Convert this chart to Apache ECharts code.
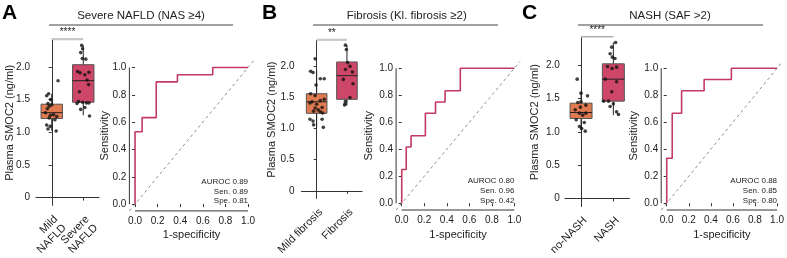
<!DOCTYPE html>
<html>
<head>
<meta charset="utf-8">
<script src="https://cdn.jsdelivr.net/npm/echarts@6/dist/echarts.min.js"></script>
<style>
  html, body { margin: 0; padding: 0; background: #fff; }
  #chart { width: 787px; height: 258px; }
</style>
</head>
<body>
<div id="chart"></div>
<script>
// ---- data ----
const catsA = ['Mild\nNAFLD', 'Severe\nNAFLD'];
const catsB = ['Mild fibrosis', 'Fibrosis'];
const catsC = ['no-NASH', 'NASH'];

// [whisker low, Q1, median, Q3, whisker high]
const boxA = [[1.02, 1.21, 1.30, 1.43, 1.59], [1.26, 1.46, 1.79, 2.035, 2.33]];
const boxB = [[1.02, 1.245, 1.43, 1.56, 1.92], [1.37, 1.47, 1.85, 2.07, 2.34]];
const boxC = [[1.02, 1.20, 1.29, 1.43, 1.60], [1.25, 1.46, 1.79, 2.02, 2.34]];

// points (value) and horizontal jitter (category units)
const ptsA0 = [1.79, 1.59, 1.56, 1.50, 1.44, 1.42, 1.40, 1.36, 1.30, 1.27, 1.26, 1.24, 1.22, 1.19, 1.11, 1.09, 1.05, 1.02];
const jitA0 = [0.20, -0.10, -0.16, -0.04, -0.12, 0.00, -0.08, -0.14, -0.20, 0.06, -0.04, 0.16, -0.08, 0.10, -0.16, -0.05, -0.12, 0.14];
const ptsA1 = [2.33, 2.28, 2.22, 2.13, 2.12, 1.93, 1.92, 1.91, 1.88, 1.80, 1.73, 1.62, 1.47, 1.46, 1.45, 1.45, 1.44, 1.38, 1.35, 1.25];
const jitA1 = [-0.05, -0.02, -0.08, -0.03, 0.08, -0.18, 0.18, -0.10, 0.05, 0.12, 0.17, -0.12, -0.15, -0.02, 0.10, 0.18, -0.20, 0.05, -0.08, 0.20];

const ptsB0 = [2.12, 1.92, 1.90, 1.80, 1.80, 1.70, 1.56, 1.53, 1.47, 1.45, 1.43, 1.41, 1.39, 1.34, 1.33, 1.30, 1.28, 1.27, 1.25, 1.15, 1.15, 1.12, 1.06, 1.02];
const jitB0 = [-0.05, -0.20, -0.12, 0.12, 0.25, -0.02, -0.20, -0.05, 0.25, 0.12, -0.15, -0.22, 0.00, 0.18, -0.05, 0.05, -0.10, 0.12, 0.20, -0.22, 0.18, -0.12, -0.10, 0.22];
const ptsB1 = [2.34, 2.27, 2.06, 2.00, 1.95, 1.91, 1.79, 1.72, 1.50, 1.44, 1.40, 1.38];
const jitB1 = [-0.05, -0.02, 0.02, 0.10, -0.05, 0.18, -0.12, 0.20, 0.10, -0.05, -0.06, -0.08];

const ptsC0 = [1.79, 1.58, 1.54, 1.45, 1.44, 1.40, 1.37, 1.33, 1.28, 1.28, 1.25, 1.18, 1.14, 1.08, 1.05, 1.01];
const jitC0 = [-0.12, 0.00, 0.20, 0.00, -0.10, 0.15, -0.02, -0.18, -0.05, 0.15, 0.05, -0.15, 0.10, -0.05, 0.02, 0.13];
const ptsC1 = [2.34, 2.27, 2.17, 2.12, 2.10, 1.98, 1.97, 1.95, 1.79, 1.75, 1.60, 1.46, 1.46, 1.42, 1.38, 1.30, 1.26];
const jitC1 = [0.07, -0.05, -0.10, -0.03, 0.05, -0.18, 0.10, -0.04, -0.25, 0.10, -0.05, -0.30, -0.15, 0.00, -0.10, 0.10, 0.16];

// ROC curves (step points)
const fprA = [0, 0, 0.0625, 0.1875, 0.375, 0.6875, 1];
const tprA = [0, 0.53, 0.633, 0.895, 0.947, 1, 1];
const fprB = [0, 0, 0.04, 0.083, 0.21, 0.30, 0.385, 0.52, 1];
const tprB = [0, 0.25, 0.417, 0.5, 0.667, 0.75, 0.833, 1, 1];
const fprC = [0, 0, 0.05, 0.135, 0.339, 0.586, 1];
const tprC = [0, 0.333, 0.667, 0.833, 0.917, 1, 1];

const auroc = ['0.89', '0.80', '0.88'];
const sens = ['0.89', '0.96', '0.85'];
const spec = ['0.81', '0.42', '0.80'];
const stars = ['****', '**', '****'];
const titles = ['Severe NAFLD (NAS \u22654)', 'Fibrosis (Kl. fibrosis \u22652)', 'NASH (SAF >2)'];
const letters = ['A', 'B', 'C'];

const boxTicks = [0, 0.5, 1, 1.5, 2];
const boxTickLabels = ['0', '0.5', '1.0', '1.5', '2.0'];
const rocTicks = [0, 0.2, 0.4, 0.6, 0.8, 1];
const rocTickLabels = ['0.0', '0.2', '0.4', '0.6', '0.8', '1.0'];

// ---- layout / styles ----
const boxMin = -0.12, boxMax = 2.41;
const rocMin = -0.05, rocMax = 1.05;
const FONT = '"Liberation Sans", Arial, Helvetica, sans-serif';
const ink = '#222';
const axisCol = '#333';
const fills = ['#e07a50', '#cf4768'];
const rocCol = '#c23a62';

const panels = [
  { cats: catsA, box: boxA, pts: [ptsA0, ptsA1], jit: [jitA0, jitA1], fpr: fprA, tpr: tprA,
    boxGrid: { left: 36, top: 40.2, width: 63, height: 169.9 }, off: 3, yGap: 18,
    rocGrid: { left: 129.4, top: 60.7, width: 124.3, height: 150.2 }, rocGap: 19,
    title: { x: 141, l: 49, r: 233 }, letterX: 2, sigCol: '#c8c8c8', sigW: 2.2 },
  { cats: catsB, box: boxB, pts: [ptsB0, ptsB1], jit: [jitB0, jitB1], fpr: fprB, tpr: tprB,
    boxGrid: { left: 301.5, top: 40.8, width: 60.6, height: 169.5 }, off: 4, yGap: 20,
    rocGrid: { left: 396.1, top: 61.5, width: 123.9, height: 148.5 }, rocGap: 21.5,
    title: { x: 406.7, l: 313, r: 498 }, letterX: 262, sigCol: '#c8c8c8', sigW: 2.2 },
  { cats: catsC, box: boxC, pts: [ptsC0, ptsC1], jit: [jitC0, jitC1], fpr: fprC, tpr: tprC,
    boxGrid: { left: 564.9, top: 37.8, width: 64.6, height: 172 }, off: 2, yGap: 22,
    rocGrid: { left: 661.2, top: 61.5, width: 122.1, height: 148.5 }, rocGap: 21.5,
    title: { x: 670, l: 578, r: 763 }, letterX: 522, sigCol: '#888', sigW: 1 }
];

const grid = [], xAxis = [], yAxis = [], series = [];
const tickStyle = { color: axisCol, width: 1 };
const labelStyle = { fontSize: 10, color: ink, fontFamily: FONT };

// box + whiskers (no caps), drawn through the axes
function renderBox(params, api) {
  const c = api.value(0);
  const lo = api.coord([c, api.value(1)]);
  const q1 = api.coord([c, api.value(2)]);
  const md = api.coord([c, api.value(3)]);
  const q3 = api.coord([c, api.value(4)]);
  const hi = api.coord([c, api.value(5)]);
  const w = api.size([0.68, 0])[0];
  const x = md[0];
  const line = { stroke: '#222', lineWidth: 1 };
  return {
    type: 'group',
    children: [
      { type: 'line', shape: { x1: x, y1: lo[1], x2: x, y2: q1[1] }, style: line },
      { type: 'line', shape: { x1: x, y1: q3[1], x2: x, y2: hi[1] }, style: line },
      { type: 'rect', shape: { x: x - w / 2, y: q3[1], width: w, height: q1[1] - q3[1] },
        style: { fill: fills[params.dataIndex], stroke: '#555', lineWidth: 1 } },
      { type: 'line', shape: { x1: x - w / 2, y1: md[1], x2: x + w / 2, y2: md[1] }, style: line }
    ]
  };
}

panels.forEach((p, i) => {
  grid.push(Object.assign({ containLabel: false }, p.boxGrid));
  grid.push(Object.assign({ containLabel: false }, p.rocGrid));
  const gBox = 2 * i, gRoc = 2 * i + 1;

  xAxis.push({
    gridIndex: gBox, type: 'category', data: p.cats, boundaryGap: true,
    axisLine: { show: true, lineStyle: tickStyle },
    axisTick: { show: true, alignWithLabel: true, length: 3, lineStyle: tickStyle },
    axisLabel: { rotate: 45, interval: 0, margin: 8, lineHeight: 12, verticalAlign: 'top',
      fontSize: 11, color: ink, fontFamily: FONT },
    splitLine: { show: false }
  });
  xAxis.push({ gridIndex: gBox, type: 'value', min: -0.5, max: 1.5, show: false });
  xAxis.push({
    gridIndex: gRoc, type: 'value', min: rocMin, max: rocMax,
    axisLine: { show: false },
    axisTick: { show: true, length: 3, customValues: rocTicks, lineStyle: tickStyle },
    axisLabel: Object.assign({ customValues: rocTicks, margin: 5,
      formatter: v => rocTickLabels[rocTicks.indexOf(v)] }, labelStyle),
    splitLine: { show: false },
    name: '1-specificity', nameLocation: 'middle', nameGap: 19, nameMoveOverlap: false,
    nameTextStyle: { fontSize: 11, color: ink, fontFamily: FONT }
  });
  yAxis.push({
    gridIndex: gBox, type: 'value', min: boxMin, max: boxMax, offset: p.off,
    axisLine: { show: true, lineStyle: tickStyle },
    axisTick: { show: true, length: 3, customValues: boxTicks, lineStyle: tickStyle },
    axisLabel: Object.assign({ customValues: boxTicks, margin: 3,
      formatter: v => boxTickLabels[boxTicks.indexOf(v)] }, labelStyle),
    splitLine: { show: false },
    name: 'Plasma SMOC2 (ng/ml)', nameLocation: 'middle', nameGap: p.yGap, nameMoveOverlap: false,
    nameTextStyle: { fontSize: 11, color: ink, fontFamily: FONT }
  });
  yAxis.push({
    gridIndex: gRoc, type: 'value', min: rocMin, max: rocMax,
    axisLine: { show: false },
    axisTick: { show: true, length: 3, customValues: rocTicks, lineStyle: tickStyle },
    axisLabel: Object.assign({ customValues: rocTicks, margin: 3,
      formatter: v => rocTickLabels[rocTicks.indexOf(v)] }, labelStyle),
    splitLine: { show: false },
    name: 'Sensitivity', nameLocation: 'middle', nameGap: p.rocGap, nameMoveOverlap: false,
    nameTextStyle: { fontSize: 11, color: ink, fontFamily: FONT }
  });

  const xJit = 3 * i + 1, xRoc = 3 * i + 2;
  const yBox = 2 * i, yRoc = 2 * i + 1;

  series.push({
    type: 'custom', xAxisIndex: xJit, yAxisIndex: yBox, silent: true, z: 2,
    renderItem: renderBox,
    encode: { x: 0, y: [1, 2, 3, 4, 5] },
    data: p.box.map((b, g) => [g].concat(b))
  });
  p.pts.forEach((vals, g) => {
    series.push({
      type: 'scatter', xAxisIndex: xJit, yAxisIndex: yBox, symbolSize: 3.6, z: 3,
      silent: true, itemStyle: { color: '#111' },
      data: vals.map((v, k) => [g + p.jit[g][k], v])
    });
  });

  // ROC: chance line, truncated axis lines, curve
  series.push({
    type: 'line', xAxisIndex: xRoc, yAxisIndex: yRoc, symbol: 'none', silent: true,
    lineStyle: { color: '#8f8f8f', width: 1, type: [3, 3] },
    data: [[rocMin, rocMin], [rocMax, rocMax]]
  });
  series.push({
    type: 'line', xAxisIndex: xRoc, yAxisIndex: yRoc, symbol: 'none', silent: true, clip: false,
    lineStyle: tickStyle,
    data: [[rocTicks[0], rocMin], [rocTicks[rocTicks.length - 1], rocMin]]
  });
  series.push({
    type: 'line', xAxisIndex: xRoc, yAxisIndex: yRoc, symbol: 'none', silent: true, clip: false,
    lineStyle: tickStyle,
    data: [[rocMin, rocTicks[0]], [rocMin, rocTicks[rocTicks.length - 1]]]
  });
  series.push({
    type: 'line', xAxisIndex: xRoc, yAxisIndex: yRoc, step: 'end', symbol: 'none', silent: true,
    clip: false, z: 4, lineStyle: { color: rocCol, width: 1.6 },
    data: p.fpr.map((f, k) => [f, p.tpr[k]])
  });
});

const chart = echarts.init(document.getElementById('chart'), null, { renderer: 'canvas' });
chart.setOption({ animation: false, backgroundColor: '#fff', grid, xAxis, yAxis, series });

// annotations placed through the axes
const graphic = [];
panels.forEach((p, i) => {
  graphic.push({ type: 'text', left: p.letterX, top: 3,
    style: { text: letters[i], font: 'bold 21px ' + FONT, fill: '#000' } });
  graphic.push({ type: 'text', x: p.title.x, y: 16,
    style: { text: titles[i], font: '11.5px ' + FONT, fill: ink, align: 'center', verticalAlign: 'middle' } });
  graphic.push({ type: 'line', shape: { x1: p.title.l, y1: 25, x2: p.title.r, y2: 25 },
    style: { stroke: '#444', lineWidth: 1 } });

  const x0 = chart.convertToPixel({ xAxisIndex: 3 * i + 1 }, 0);
  const x1 = chart.convertToPixel({ xAxisIndex: 3 * i + 1 }, 1);
  const ySig = chart.convertToPixel({ yAxisIndex: 2 * i }, boxMax) - 1;
  graphic.push({ type: 'line', shape: { x1: x0, y1: ySig, x2: x1, y2: ySig },
    style: { stroke: p.sigCol, lineWidth: p.sigW } });
  graphic.push({ type: 'text', x: (x0 + x1) / 2, y: ySig - 2,
    style: { text: stars[i], font: '10px ' + FONT, fill: ink, align: 'center', verticalAlign: 'bottom' } });

  const xr = chart.convertToPixel({ xAxisIndex: 3 * i + 2 }, 1);
  const yr = chart.convertToPixel({ yAxisIndex: 2 * i + 1 }, 0);
  graphic.push({ type: 'text', x: xr, y: yr + 2,
    style: { text: 'AUROC ' + auroc[i] + '\nSen. ' + sens[i] + '\nSpe. ' + spec[i],
      font: '8px ' + FONT, fill: ink, align: 'right', verticalAlign: 'bottom', lineHeight: 9.6 } });
});
chart.setOption({ graphic });
</script>
</body>
</html>
